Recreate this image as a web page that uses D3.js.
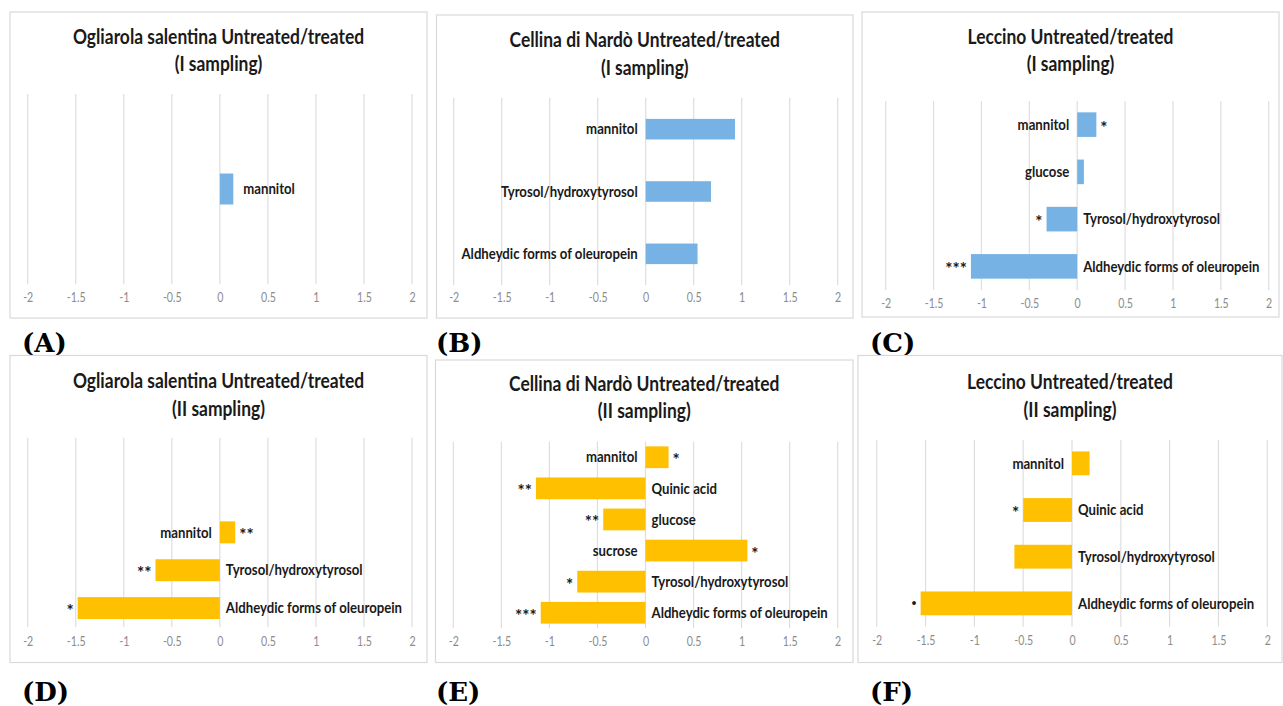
<!DOCTYPE html>
<html>
<head>
<meta charset="utf-8">
<script src="https://cdn.jsdelivr.net/npm/d3@7"></script>
<style>
  html, body { margin: 0; padding: 0; background: #ffffff; }
  svg { display: block; }
</style>
</head>
<body>
<svg id="fig" width="1283" height="706"></svg>
<script>
// ---- data ---------------------------------------------------------------
const ticks = [-2, -1.5, -1, -0.5, 0, 0.5, 1, 1.5, 2];
const panelLetters = ["(A)", "(B)", "(C)", "(D)", "(E)", "(F)"];
const cultivars = ["Ogliarola salentina", "Cellina di Nardò", "Leccino",
                   "Ogliarola salentina", "Cellina di Nardò", "Leccino"];
const samplings = ["I", "I", "I", "II", "II", "II"];

const catsA = ["mannitol"];
const valsA = [0.14];
const sigA  = [""];

const catsB = ["mannitol", "Tyrosol/hydroxytyrosol", "Aldheydic forms of oleuropein"];
const valsB = [0.93, 0.68, 0.54];
const sigB  = ["", "", ""];

const catsC = ["mannitol", "glucose", "Tyrosol/hydroxytyrosol", "Aldheydic forms of oleuropein"];
const valsC = [0.2, 0.07, -0.32, -1.11];
const sigC  = ["*", "", "*", "***"];

const catsD = ["mannitol", "Tyrosol/hydroxytyrosol", "Aldheydic forms of oleuropein"];
const valsD = [0.16, -0.67, -1.48];
const sigD  = ["**", "**", "*"];

const catsE = ["mannitol", "Quinic acid", "glucose", "sucrose",
               "Tyrosol/hydroxytyrosol", "Aldheydic forms of oleuropein"];
const valsE = [0.24, -1.14, -0.44, 1.06, -0.71, -1.09];
const sigE  = ["*", "**", "**", "*", "*", "***"];

const catsF = ["mannitol", "Quinic acid", "Tyrosol/hydroxytyrosol", "Aldheydic forms of oleuropein"];
const valsF = [0.18, -0.5, -0.59, -1.55];
const sigF  = ["", "*", "", "·"];

const samplingColors = { I: "#76b2e4", II: "#ffc000" };

// ---- layout of the six chart boxes ---------------------------------------
// frame: chart area box; xr: pixel range of -2..2; gy: gridline extent;
// slots: number of category bands; bar: bar thickness as fraction of band
const layout = [
  { frame: [10, 12, 427, 318],     xr: [27.7, 412],   gy: [94, 284],    tickY: 302, titleY: [37, 64],   slots: 1, bar: 0.163, labelsBeyond: true,  letter: [22, 352] },
  { frame: [436.5, 15, 853, 318],  xr: [453.7, 837.7], gy: [98, 285],   tickY: 302, titleY: [40, 68],   slots: 3, bar: 0.33,  letter: [436, 352] },
  { frame: [862, 12, 1279, 317],   xr: [885.7, 1268.7], gy: [101, 290], tickY: 308, titleY: [37, 64],   slots: 4, bar: 0.52,  letter: [870, 352] },
  { frame: [10, 355.5, 427, 662.5], xr: [27.7, 412],  gy: [437.7, 627], tickY: 646, titleY: [381, 409], slots: 5, bar: 0.58,  letter: [22, 701] },
  { frame: [435.5, 360, 853, 662.5], xr: [453.3, 837.7], gy: [441.7, 628.3], tickY: 646, titleY: [384, 411], slots: 6, bar: 0.70, letter: [436, 701] },
  { frame: [858, 355.5, 1282, 662.5], xr: [876.7, 1267.3], gy: [440, 626.7], tickY: 645, titleY: [382, 410], slots: 4, bar: 0.51, letter: [870, 701] }
];

const panels = [
  { cats: catsA, vals: valsA, sig: sigA },
  { cats: catsB, vals: valsB, sig: sigB },
  { cats: catsC, vals: valsC, sig: sigC },
  { cats: catsD, vals: valsD, sig: sigD },
  { cats: catsE, vals: valsE, sig: sigE },
  { cats: catsF, vals: valsF, sig: sigF }
];

// ---- drawing -------------------------------------------------------------
const svg = d3.select("#fig");
const SX = 0.85;              // horizontal squeeze of the condensed sans text
const SANS = "Lato, 'Open Sans', sans-serif";

function txt(g, x, y, s, o) {
  return g.append("text")
    .attr("transform", `translate(${x},${y}) scale(${o.sx ?? SX},1)`)
    .attr("text-anchor", o.anchor || "start")
    .attr("font-family", o.family || SANS)
    .attr("font-weight", o.weight || "bold")
    .attr("font-size", o.size)
    .attr("fill", o.fill || "#1a1a1a")
    .text(s);
}

panels.forEach((p, i) => {
  const L = layout[i];
  const g = svg.append("g");
  const color = samplingColors[samplings[i]];

  // chart box
  g.append("rect")
    .attr("x", L.frame[0]).attr("y", L.frame[1])
    .attr("width", L.frame[2] - L.frame[0]).attr("height", L.frame[3] - L.frame[1])
    .attr("fill", "#ffffff").attr("stroke", "#d9d9d9").attr("stroke-width", 1.2);

  const x = d3.scaleLinear().domain([ticks[0], ticks[ticks.length - 1]]).range(L.xr);
  const y = d3.scaleBand().domain(d3.range(L.slots)).range(L.gy).padding(0);
  const first = L.slots - p.cats.length;
  const th = y.step() * L.bar;
  const cy = k => y(first + k) + y.step() / 2;

  // vertical gridlines
  g.append("g").selectAll("line").data(ticks).join("line")
    .attr("x1", d => x(d)).attr("x2", d => x(d))
    .attr("y1", L.gy[0]).attr("y2", L.gy[1])
    .attr("stroke", "#dedede").attr("stroke-width", 1.2);

  // tick labels
  const axis = d3.axisBottom(x).tickValues(ticks).tickSize(0).tickFormat(d3.format("~g"));
  const ag = g.append("g").attr("transform", `translate(0,${L.tickY - 9})`).call(axis);
  ag.select(".domain").remove();
  ag.selectAll("text")
    .attr("font-family", SANS).attr("font-size", 12.5).attr("fill", "#8c8c8c")
    .attr("font-weight", "normal")
    .attr("transform", `scale(${SX},1)`)
    .attr("dy", "0.71em").attr("y", 0)
    .text(d => d3.format("~g")(d).replace("−", "-"));

  // bars
  g.append("g").selectAll("rect").data(p.vals).join("rect")
    .attr("x", d => Math.min(x(0), x(d)))
    .attr("width", d => Math.abs(x(d) - x(0)))
    .attr("y", (d, k) => cy(k) - th / 2)
    .attr("height", th)
    .attr("fill", color);

  // category labels and significance marks
  p.vals.forEach((v, k) => {
    const yc = cy(k) + 5.2;
    const ls = 15.5;
    if (L.labelsBeyond) {
      txt(g, x(v) + 10, yc, p.cats[k], { size: ls, anchor: "start" });
    } else if (v >= 0) {
      txt(g, x(0) - 8, yc, p.cats[k], { size: ls, anchor: "end" });
    } else {
      txt(g, x(0) + 6, yc, p.cats[k], { size: ls, anchor: "start" });
    }
    const s = p.sig[k];
    if (s) {
      const dot = s === "·";
      const ys = cy(k) + (dot ? 6 : 9);
      const fs = dot ? 20 : 17;
      if (v >= 0) txt(g, x(v) + 4, ys, s, { size: fs, anchor: "start", sx: 1 });
      else txt(g, x(v) - 4, ys, s, { size: fs, anchor: "end", sx: 1 });
    }
  });

  // title
  const tcx = (L.frame[0] + L.frame[2]) / 2;
  txt(g, tcx, L.titleY[0] + 7, `${cultivars[i]} Untreated/treated`, { size: 20.5, anchor: "middle" });
  txt(g, tcx, L.titleY[1] + 7, `(${samplings[i]} sampling)`, { size: 20.5, anchor: "middle" });

  // panel letter
  txt(svg, L.letter[0], L.letter[1], panelLetters[i],
      { size: 26, anchor: "start", family: "'DejaVu Serif', 'Liberation Serif', serif", fill: "#000", sx: 1 });
});
</script>
</body>
</html>
